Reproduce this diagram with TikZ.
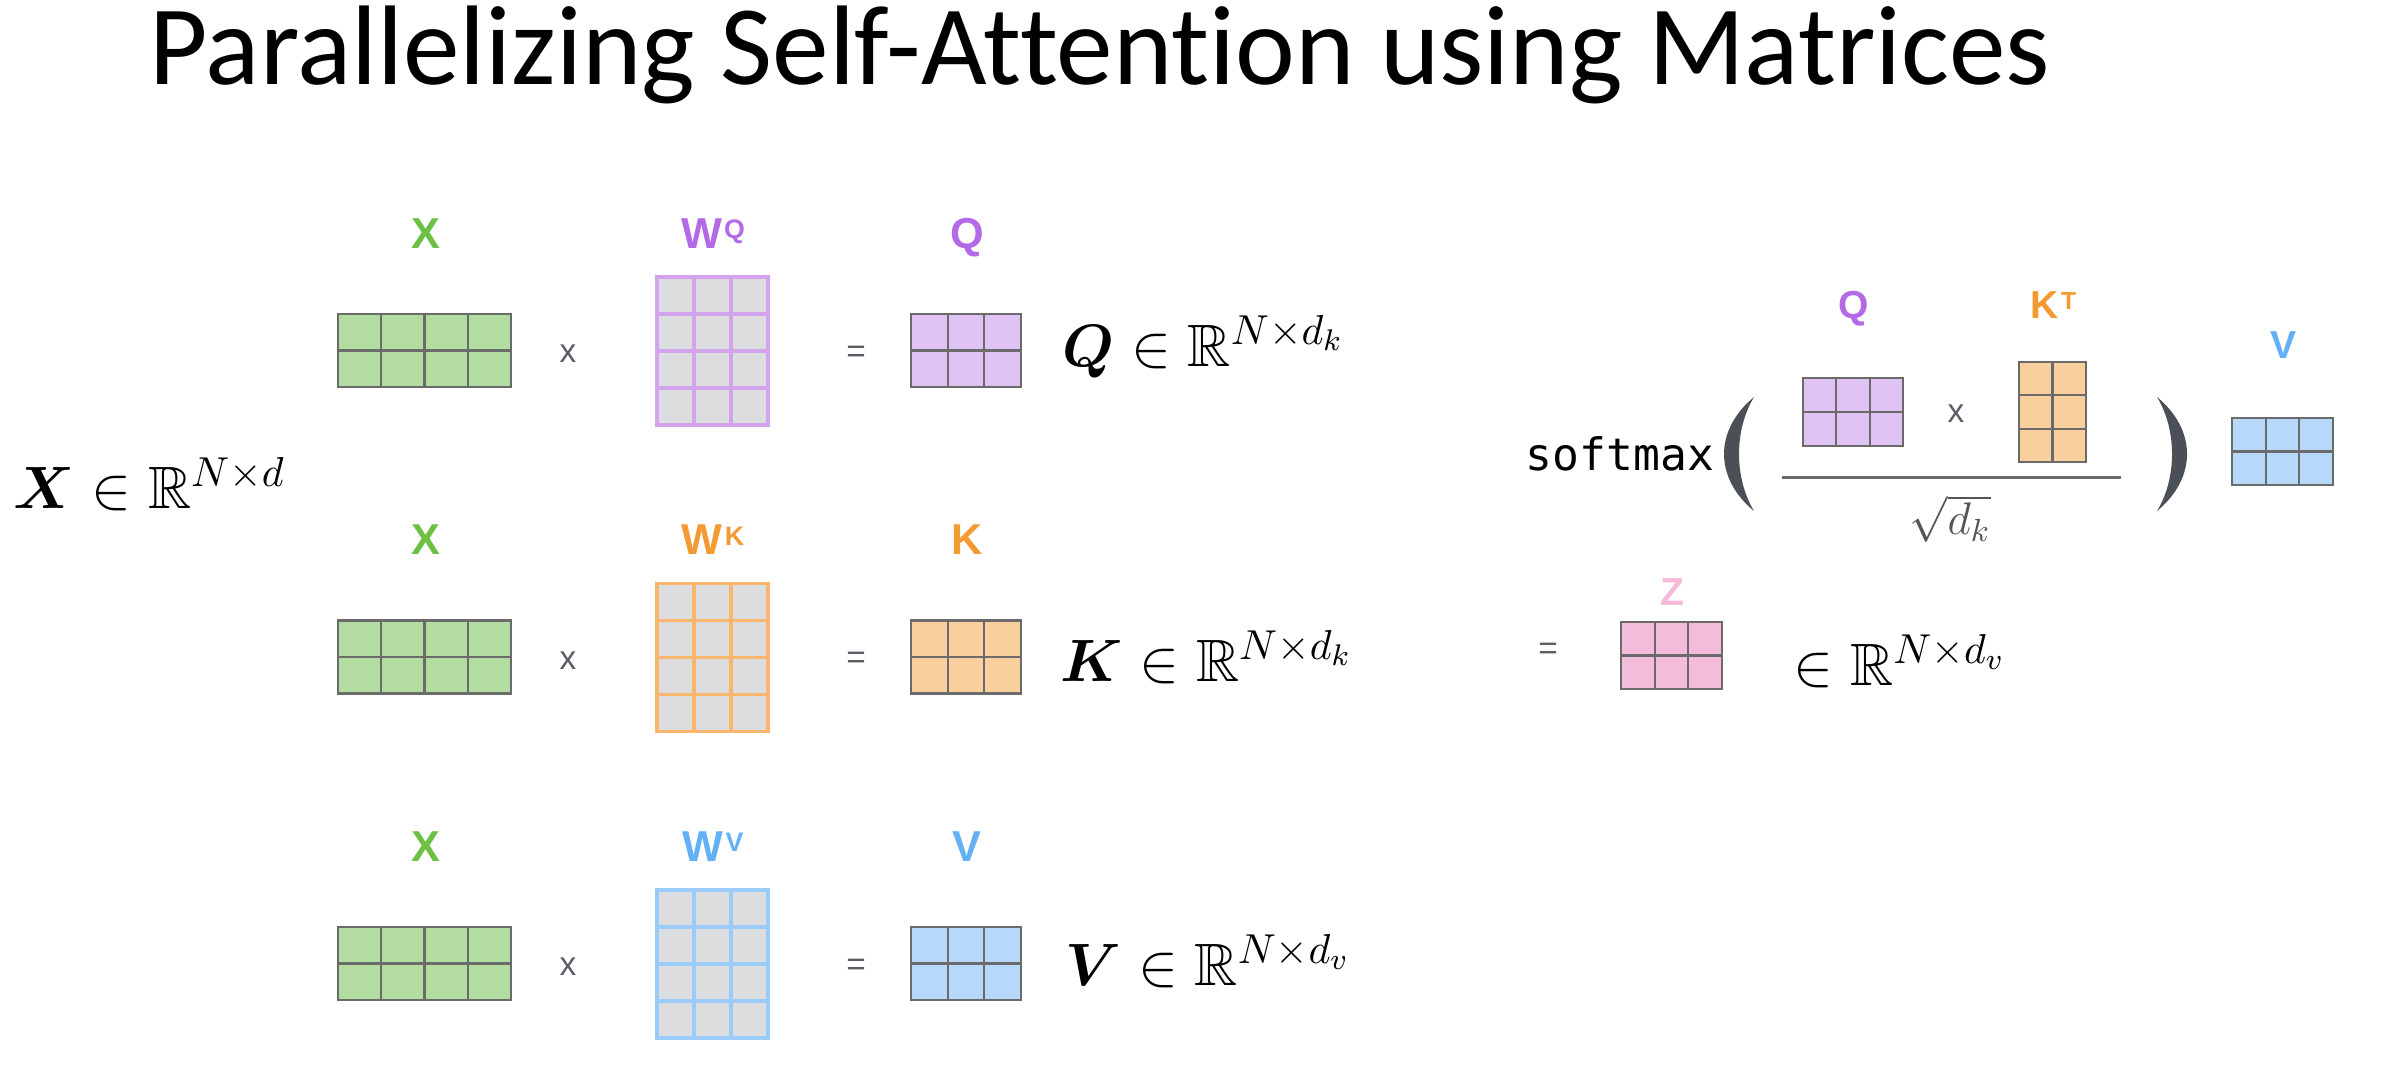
\RequirePackage{fix-cm}
\documentclass[tikz,border=0pt]{standalone}
\usepackage{amsmath,amssymb,bm}
\usepackage[no-math]{fontspec}
\setmainfont{Carlito}[Ligatures=NoCommon]
\newfontfamily\labelfont{Liberation Sans}
\newfontfamily\monofont{DejaVu Sans Mono}
\usetikzlibrary{calc}
\definecolor{outl}{HTML}{6B6B6B}
\definecolor{cellgrey}{HTML}{DCDDDF}
\definecolor{gfill}{HTML}{B3DCA0}
\definecolor{glab}{HTML}{6DC043}
\definecolor{plab}{HTML}{B46AE6}
\definecolor{pfill}{HTML}{DFC3F3}
\definecolor{pline}{HTML}{D3A3EE}
\definecolor{olab}{HTML}{F39A33}
\definecolor{ofill}{HTML}{F9D09D}
\definecolor{oline}{HTML}{F9B66C}
\definecolor{blab}{HTML}{64B0F5}
\definecolor{bfill}{HTML}{B6D8F9}
\definecolor{bline}{HTML}{9ACBF9}
\definecolor{zlab}{HTML}{F6BBDA}
\definecolor{zfill}{HTML}{F4BCDB}
\definecolor{opgrey}{HTML}{5A5F66}
\definecolor{parc}{HTML}{4B5057}
\definecolor{sqc}{HTML}{555555}
\newcommand{\gridin}[4]{%
  \pgfmathtruncatemacro\mgc{#2-1}\pgfmathtruncatemacro\mgr{#3-1}%
  \foreach \i in {1,...,\mgc}{\draw[#4] ($(#1.north west)!\i/#2!(#1.north east)$) -- ($(#1.south west)!\i/#2!(#1.south east)$);}%
  \foreach \j in {1,...,\mgr}{\draw[#4] ($(#1.north west)!\j/#3!(#1.south west)$) -- ($(#1.north east)!\j/#3!(#1.south east)$);}%
}
\newcommand{\supl}[1]{\raisebox{2.6pt}{\fontsize{7.6}{8}\selectfont\hspace{0.6pt}#1}}
\tikzset{
  cmat/.style={draw=outl, line width=0.6pt, fill=#1, inner sep=0pt, outer sep=0pt},
  cgrid/.style={draw=outl, line width=0.6pt},
  wmat/.style={draw=#1, line width=1.1pt, fill=cellgrey, inner sep=0pt, outer sep=0pt},
  wgrid/.style={draw=#1, line width=1.1pt},
  lab/.style={font=\labelfont\bfseries\fontsize{12.3}{14}\selectfont, inner sep=0pt, anchor=base},
  slab/.style={font=\labelfont\bfseries\fontsize{11.1}{13}\selectfont, inner sep=0pt, anchor=base},
  op/.style={font=\labelfont\fontsize{9.5}{11}\selectfont, text=opgrey, inner sep=0pt},
  eqn/.style={font=\fontsize{17}{20}\selectfont, inner sep=0pt, anchor=base west},
  paren/.style={fill=parc},
  fracline/.style={draw=outl, line width=0.85pt},
}
\begin{document}
\begin{tikzpicture}[x=0.01cm, y=-0.01cm]
\useasboundingbox (0,0) rectangle (2401,1072);
\fill[white] (0,0) rectangle (2401,1072);
% title
\node[font=\fontsize{32.2}{36}\selectfont, inner sep=0pt, anchor=base west] (title) at (149,84) {Parallelizing Self-Attention using Matrices};
% X equation
\node[eqn] (xeq) at (13,508) {$\boldsymbol{X} \in \mathbb{R}^{N\times d}$};
% rows
\foreach \r/\nm/\lc/\fc/\lnc/\eqt/\ex/\ey in {0/Q/plab/pfill/pline/{\boldsymbol{Q} \in \mathbb{R}^{N\times d_k}}/1062/366, 1/K/olab/ofill/oline/{\boldsymbol{K} \in \mathbb{R}^{N\times d_k}}/1060/681, 2/V/blab/bfill/bline/{\boldsymbol{V} \in \mathbb{R}^{N\times d_v}}/1065/985}{
  \pgfmathsetmacro\dy{306.5*\r}
  \node[lab, text=glab] (lx\nm) at (426,248+\dy) {X};
  \node[lab, text=\lc] (lw\nm) at (713,248+\dy) {W\supl{\nm}};
  \node[lab, text=\lc] (lr\nm) at (967,248+\dy) {\nm};
  \node[cmat=gfill, minimum width=1.73cm, minimum height=0.73cm] (x\nm) at (424.5,350.5+\dy) {};
  \gridin{x\nm}{4}{2}{cgrid}
  \node[op] (t\nm) at (568,354+\dy) {x};
  \node[wmat=\lnc, minimum width=1.11cm, minimum height=1.48cm] (w\nm) at (712.5,351+\dy) {};
  \gridin{w\nm}{3}{4}{wgrid=\lnc}
  \node[op] (e\nm) at (856,354+\dy) {=};
  \node[cmat=\fc, minimum width=1.10cm, minimum height=0.73cm] (r\nm) at (966,350.5+\dy) {};
  \gridin{r\nm}{3}{2}{cgrid}
  \node[eqn] (eq\nm) at (\ex,\ey) {$\eqt$};
}
% softmax part
\node[font=\monofont\fontsize{12.7}{15}\selectfont, inner sep=0pt, anchor=base west] (sm) at (1525,470) {softmax};
\fill[paren] (1754,397) .. controls (1714,430) and (1714,478) .. (1754,511) .. controls (1734,478) and (1734,430) .. (1754,397) -- cycle;
\fill[paren] (2157,397) .. controls (2197,430) and (2197,478) .. (2157,511) .. controls (2177,478) and (2177,430) .. (2157,397) -- cycle;
\node[slab, text=plab] (lq2) at (1854,318) {Q};
\node[slab, text=olab] (lkt) at (2053.5,318) {K\raisebox{2.4pt}{\fontsize{7}{8}\selectfont\hspace{0.6pt}T}};
\node[slab, text=blab] (lv2) at (2283,358) {V};
\node[cmat=pfill, minimum width=1.00cm, minimum height=0.68cm] (q2) at (1853,412) {};
\gridin{q2}{3}{2}{cgrid}
\node[op] (t2) at (1956,414) {x};
\node[cmat=ofill, minimum width=0.67cm, minimum height=1.00cm] (kt) at (2052.5,412) {};
\gridin{kt}{2}{3}{cgrid}
\coordinate (fl1) at (1782,477);
\coordinate (fl2) at (2121,477);
\draw[fracline] (fl1) -- (fl2);
\node[text=sqc, font=\fontsize{13}{15}\selectfont, inner sep=0pt] (sq) at (1950,519) {$\sqrt{d_k}$};
\node[cmat=bfill, minimum width=1.01cm, minimum height=0.67cm] (v2) at (2282.5,451.5) {};
\gridin{v2}{3}{2}{cgrid}
% Z
\node[op] (ez) at (1548,651) {=};
\node[slab, text=zlab] (lz) at (1672.5,605) {Z};
\node[cmat=zfill, minimum width=1.01cm, minimum height=0.67cm] (z) at (1671.5,655.5) {};
\gridin{z}{3}{2}{cgrid}
\node[eqn] (eqz) at (1793,685) {$\in \mathbb{R}^{N\times d_v}$};
\end{tikzpicture}
\end{document}
